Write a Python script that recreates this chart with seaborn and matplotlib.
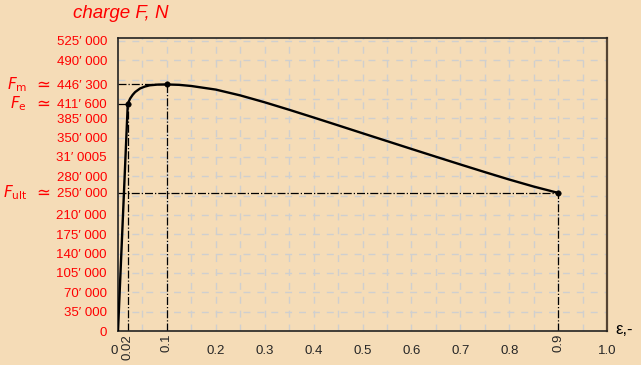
import matplotlib
matplotlib.use("Agg")
import matplotlib.pyplot as plt
import matplotlib.transforms as mtransforms
import seaborn as sns
import numpy as np
import pandas as pd

# strain / force values
eps = [0.0, 0.02, 0.025, 0.03, 0.035, 0.045, 0.055, 0.065, 0.08, 0.1, 0.125, 0.15, 0.2,
       0.25, 0.3, 0.35, 0.4, 0.45, 0.5, 0.55, 0.6, 0.65, 0.7, 0.75, 0.8, 0.85, 0.9]
force = [0, 411600, 421000, 427500, 432500, 439000, 442500, 444800, 446000, 446300,
         445600, 443500, 437000, 426500, 414000, 400500, 386500, 372300, 358000,
         343800, 329600, 315500, 301500, 287700, 274200, 261500, 250000]

# characteristic points
key_eps = [0.02, 0.1, 0.9]
key_force = [411600, 446300, 250000]
key_names = [r"$F_{\rm e}$", r"$F_{\rm m}$", r"$F_{\rm ult}$"]

ytick_vals = [525000, 490000, 446300, 411600, 385000, 350000, 315000, 280000, 250000,
              210000, 175000, 140000, 105000, 70000, 35000, 0]
ytick_labels = ["525′ 000", "490′ 000", "446′ 300", "411′ 600", "385′ 000", "350′ 000",
                "31′ 0005", "280′ 000", "250′ 000", "210′ 000", "175′ 000", "140′ 000",
                "105′ 000", "70′ 000", "35′ 000", "0"]
xtick_vals = [0, 0.2, 0.3, 0.4, 0.5, 0.6, 0.7, 0.8, 1.0]
xtick_labels = ["0", "0.2", "0.3", "0.4", "0.5", "0.6", "0.7", "0.8", "1.0"]
xtick_rot = ["0.02", "0.1", "0.9"]

bg = "#F5DCB7"
sns.set_style("white")
plt.rcParams['font.family'] = ['Liberation Sans', 'DejaVu Sans']

fig = plt.figure(figsize=(6.41, 3.65), dpi=100, facecolor=bg)
ax = fig.add_axes([118 / 641, 1 - 331 / 365, 489 / 641, 293 / 365])
ax.set_facecolor(bg)
ax.set_xlim(0, 1)
ax.set_ylim(0, 530400)

# dashed grid
for gx in np.arange(0.05, 1.0, 0.05):
    ax.axvline(gx, color="#cfcfcf", lw=1, ls=(0, (5, 5)), zorder=0)
for gy in np.arange(35000, 530000, 35000):
    ax.axhline(gy, color="#cfcfcf", lw=1, ls=(0, (5, 5)), zorder=0)

# reference lines
for ex, fy in zip(key_eps, key_force):
    ax.plot([0, ex], [fy, fy], color="black", lw=0.9, ls="-.", zorder=2)
    ax.plot([ex, ex], [0, fy], color="black", lw=0.9, ls="-.", zorder=2)

df = pd.DataFrame({"eps": eps, "F": force})
sns.lineplot(data=df, x="eps", y="F", color="black", lw=1.7, sort=False, ax=ax, zorder=3)
sns.scatterplot(x=key_eps, y=key_force, color="black", s=16, edgecolor="black", ax=ax, zorder=4)

ax.set_yticks(ytick_vals)
ax.set_yticklabels(ytick_labels, color="red", fontsize=9.5)
ax.set_xticks(xtick_vals)
ax.set_xticklabels(xtick_labels, fontsize=9.5)
ax.get_xticklabels()[0].set_ha("right")
ax.set_xticks(key_eps, minor=True)
ax.set_xticklabels(xtick_rot, minor=True, fontsize=9.5, rotation=90)
ax.tick_params(axis="y", length=0, pad=8)
ax.tick_params(axis="x", which="major", length=0, pad=10)
ax.tick_params(axis="x", which="minor", length=0, pad=2)
ax.set_xlabel("")
ax.set_ylabel("")

for side in ["left", "bottom", "right"]:
    ax.spines[side].set_color("#222222")
    ax.spines[side].set_linewidth(1.2)
ax.spines["top"].set_color("#222222")
ax.spines["top"].set_linewidth(1.2)
ax.spines["top"].set_linestyle((0, (3, 1)))
ax.spines["right"].set_color("#554433")
ax.spines["right"].set_linewidth(1.6)

# labels for characteristic forces
trans = mtransforms.blended_transform_factory(fig.transFigure, ax.transData)
for name, fy in zip(key_names, key_force):
    ax.text(27 / 641, fy, name, transform=trans, ha="right", va="center",
            color="red", fontsize=11, style="italic")
    ax.text(42 / 641, fy, r"$\simeq$", transform=trans, ha="center", va="center",
            color="red", fontsize=12)

fig.text(73 / 641, 1 - 14 / 365, "charge F, N", color="red", fontsize=13.5,
         style="italic", ha="left", va="center")
fig.text(615 / 641, 1 - 329 / 365, "ε,-", color="black", fontsize=12,
         ha="left", va="center")

fig.savefig("out.png", dpi=100, facecolor=bg)
